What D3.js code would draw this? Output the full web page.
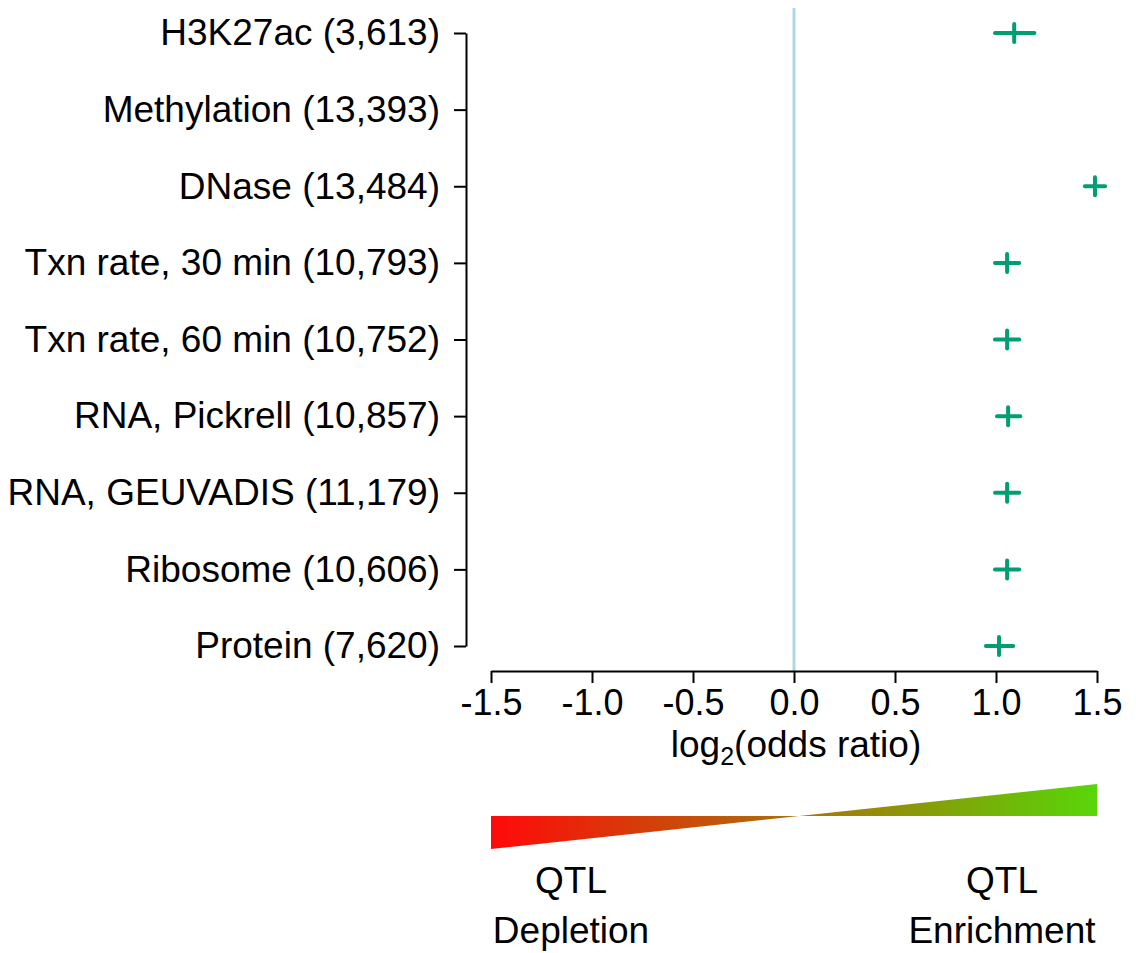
<!DOCTYPE html>
<html>
<head>
<meta charset="utf-8">
<script src="https://cdn.jsdelivr.net/npm/d3@7"></script>
<style>
  body { margin: 0; background: #fff; }
  text { font-family: "Liberation Sans", Arial, Helvetica, sans-serif; fill: #000; }
</style>
</head>
<body>
<div id="chart"></div>
<script>
// categories, top to bottom
var categories = [
  "H3K27ac (3,613)",
  "Methylation (13,393)",
  "DNase (13,484)",
  "Txn rate, 30 min (10,793)",
  "Txn rate, 60 min (10,752)",
  "RNA, Pickrell (10,857)",
  "RNA, GEUVADIS (11,179)",
  "Ribosome (10,606)",
  "Protein (7,620)"
];
// log2 odds ratio estimates and CI (null = not shown)
var estimate = [1.09, null, 1.49, 1.055, 1.055, 1.06, 1.055, 1.055, 1.015];
var ciLow    = [0.995, null, 1.44, 0.995, 0.995, 1.005, 0.995, 0.995, 0.95];
var ciHigh   = [1.19, null, 1.54, 1.115, 1.115, 1.12, 1.115, 1.115, 1.085];
var xTicks = [-1.5, -1.0, -0.5, 0.0, 0.5, 1.0, 1.5];

var W = 1136, H = 953;
var green = "#009E73";

var svg = d3.select("#chart").append("svg")
  .attr("width", W).attr("height", H);

var x = d3.scaleLinear().domain([-1.5, 1.5]).range([491, 1097]);
var y = d3.scalePoint().domain(categories).range([33, 646]);

// zero reference line
svg.append("line")
  .attr("x1", x(0)).attr("x2", x(0))
  .attr("y1", 8).attr("y2", 671)
  .style("stroke", "#add8e6")
  .style("stroke-width", 3);

// x axis
var xAxis = svg.append("g")
  .attr("transform", "translate(0,671)")
  .call(d3.axisBottom(x).tickValues(xTicks).tickSize(12).tickSizeOuter(0).tickPadding(6));
xAxis.select(".domain").style("stroke", "#000").style("stroke-width", 2);
xAxis.selectAll(".tick line").style("stroke", "#000").style("stroke-width", 2);
xAxis.selectAll("text").style("font-size", "36px")
  .style("font-family", '"Liberation Sans", Arial, sans-serif')
  .attr("fill", "#000")
  .text(function (d) { return d3.format(".1f")(d).replace("−", "-"); });

// x title
var title = svg.append("text")
  .attr("x", x(0) + 2).attr("y", 757)
  .attr("text-anchor", "middle")
  .style("font-size", "37px");
title.append("tspan").text("log");
title.append("tspan").attr("dy", 8).style("font-size", "25px").text("2");
title.append("tspan").attr("dy", -8).text("(odds ratio)");

// y axis
var yAxis = svg.append("g")
  .attr("transform", "translate(466,0)")
  .call(d3.axisLeft(y).tickSize(12).tickSizeOuter(0).tickPadding(14));
yAxis.select(".domain").style("stroke", "#000").style("stroke-width", 2);
yAxis.selectAll(".tick line").style("stroke", "#000").style("stroke-width", 2);
yAxis.selectAll("text").style("font-size", "37px")
  .style("font-family", '"Liberation Sans", Arial, sans-serif')
  .attr("fill", "#000");

// points with confidence intervals
var rows = categories.map(function (c, i) {
  return { cat: c, est: estimate[i], lo: ciLow[i], hi: ciHigh[i] };
}).filter(function (d) { return d.est !== null; });

var pts = svg.append("g");
pts.selectAll("line.ci")
  .data(rows).enter().append("line")
  .attr("class", "ci")
  .attr("x1", function (d) { return x(d.lo); })
  .attr("x2", function (d) { return x(d.hi); })
  .attr("y1", function (d) { return y(d.cat); })
  .attr("y2", function (d) { return y(d.cat); })
  .style("stroke", green).style("stroke-width", 4).style("stroke-linecap", "round");
pts.selectAll("line.pt")
  .data(rows).enter().append("line")
  .attr("class", "pt")
  .attr("x1", function (d) { return x(d.est); })
  .attr("x2", function (d) { return x(d.est); })
  .attr("y1", function (d) { return y(d.cat) - 9; })
  .attr("y2", function (d) { return y(d.cat) + 9; })
  .style("stroke", green).style("stroke-width", 4).style("stroke-linecap", "round");

// depletion / enrichment wedge
var defs = svg.append("defs");
var grad = defs.append("linearGradient").attr("id", "wedge")
  .attr("gradientUnits", "userSpaceOnUse")
  .attr("x1", x(-1.5)).attr("x2", x(1.5)).attr("y1", 0).attr("y2", 0);
grad.append("stop").attr("offset", "0%").attr("stop-color", "#ff0a0a");
grad.append("stop").attr("offset", "100%").attr("stop-color", "#58d608");

var midY = 816;
svg.append("path")
  .attr("d", "M" + x(-1.5) + "," + 849 +
    "L" + x(1.5) + "," + 784 +
    "L" + x(1.5) + "," + midY +
    "L" + x(-1.5) + "," + midY + "Z")
  .style("fill", "url(#wedge)")
  .style("fill-rule", "nonzero");

var notes = [
  { cx: 571, lines: ["QTL", "Depletion"] },
  { cx: 1002, lines: ["QTL", "Enrichment"] }
];
notes.forEach(function (n) {
  n.lines.forEach(function (t, i) {
    svg.append("text")
      .attr("x", n.cx).attr("y", 893 + i * 50)
      .attr("text-anchor", "middle")
      .style("font-size", "37px")
      .text(t);
  });
});
</script>
</body>
</html>
